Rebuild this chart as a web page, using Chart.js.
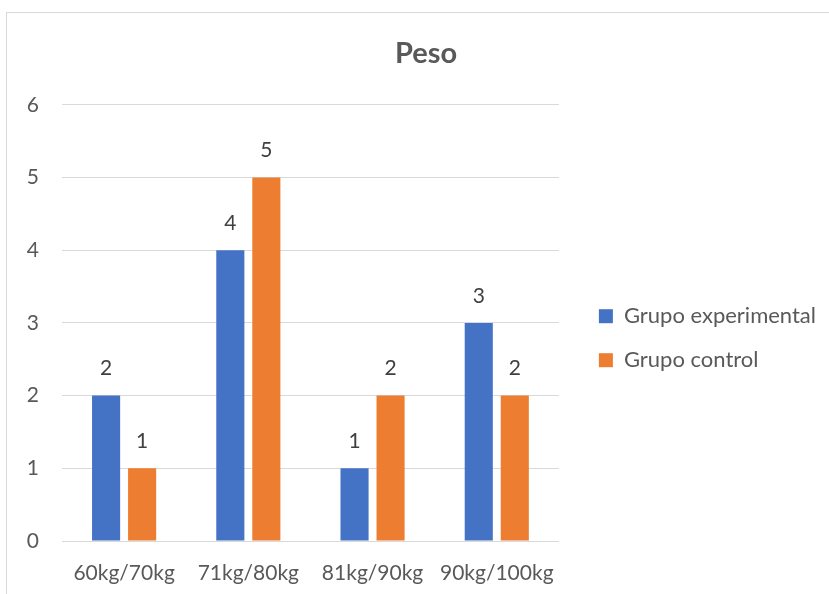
<!DOCTYPE html>
<html>
<head>
<meta charset="utf-8">
<script src="https://cdn.jsdelivr.net/npm/chart.js@4/dist/chart.umd.min.js"></script>
<style>
  html, body { margin: 0; padding: 0; background: #fff; overflow: hidden; }
  #frame { position: absolute; left: 6px; top: 12px; width: 900px; height: 700px;
           border-left: 1px solid #d9d9d9; border-top: 1px solid #d9d9d9; }
  #wrap { position: absolute; left: 0; top: 0; width: 840px; height: 581px; }
</style>
</head>
<body>
<div id="frame"><div id="wrap"><canvas id="c"></canvas></div></div>
<script>
const categories = ['60kg/70kg', '71kg/80kg', '81kg/90kg', '90kg/100kg'];
const seriesNames = ['Grupo experimental', 'Grupo control'];
const experimental = [2, 4, 1, 3];
const control = [1, 5, 2, 2];
const yTicks = [0, 1, 2, 3, 4, 5, 6];

const FONT = 'Lato, "Open Sans", sans-serif';
const TXT = '#595959';
const FS = 21;
const LFS = 22;
const PAD_L = 19;
const PAD_R = 21;

const valueLabels = {
  id: 'valueLabels',
  afterDatasetsDraw(chart) {
    const ctx = chart.ctx;
    ctx.save();
    ctx.font = FS + 'px ' + FONT;
    ctx.fillStyle = '#404040';
    ctx.textAlign = 'center';
    ctx.textBaseline = 'middle';
    chart.data.datasets.forEach((ds, i) => {
      chart.getDatasetMeta(i).data.forEach((bar, j) => {
        ctx.fillText(String(ds.data[j]), bar.x, bar.y - 27);
      });
    });
    ctx.restore();
  }
};

// let the right-hand legend be as wide as its text (Chart.js caps side boxes at a fraction of the width)
const legendWidth = {
  id: 'legendWidth',
  beforeLayout(chart) {
    const lg = chart.legend;
    if (lg && !lg._wide) {
      const orig = lg.update.bind(lg);
      lg.update = (mw, mh, m) => orig(Math.max(mw, 400), mh, m);
      lg._wide = true;
    }
  }
};

new Chart(document.getElementById('c'), {
  type: 'bar',
  data: {
    labels: categories,
    datasets: [
      { label: seriesNames[0], data: experimental, backgroundColor: '#4472C4',
        categoryPercentage: 0.58, barPercentage: 0.78 },
      { label: seriesNames[1], data: control, backgroundColor: '#ED7D31',
        categoryPercentage: 0.58, barPercentage: 0.78 }
    ]
  },
  options: {
    responsive: true,
    maintainAspectRatio: false,
    animation: false,
    layout: { padding: { left: PAD_L, right: PAD_R, top: 0, bottom: 0 } },
    plugins: {
      title: {
        display: true, text: 'Peso', color: TXT,
        font: { family: FONT, size: 29, weight: 'bold' },
        padding: { top: 23, bottom: 34 }
      },
      legend: {
        position: 'right',
        title: { display: true, text: '', padding: { top: 0, bottom: 55 } },
        labels: {
          color: TXT, boxWidth: 14, boxHeight: 14, padding: 22,
          font: { family: FONT, size: LFS }
        }
      },
      tooltip: { enabled: false }
    },
    scales: {
      x: {
        grid: { display: false },
        border: { display: false },
        ticks: { color: TXT, font: { family: FONT, size: FS }, padding: 12, maxRotation: 0 },
        afterFit(s) { s.height = 53; }
      },
      y: {
        min: 0, max: 6,
        grid: { color: '#d9d9d9', drawTicks: false },
        border: { display: false },
        ticks: { stepSize: 1, color: TXT, font: { family: FONT, size: FS }, padding: 23,
                 callback: (v) => yTicks.includes(v) ? String(v) : '' },
        afterFit(s) { s.width = 55 - PAD_L; }
      },
      gap: {
        type: 'linear', position: 'right', display: true,
        grid: { display: false }, border: { display: false },
        ticks: { display: false },
        afterFit(s) { s.width = 18; }
      }
    }
  },
  plugins: [valueLabels, legendWidth]
});
</script>
</body>
</html>
